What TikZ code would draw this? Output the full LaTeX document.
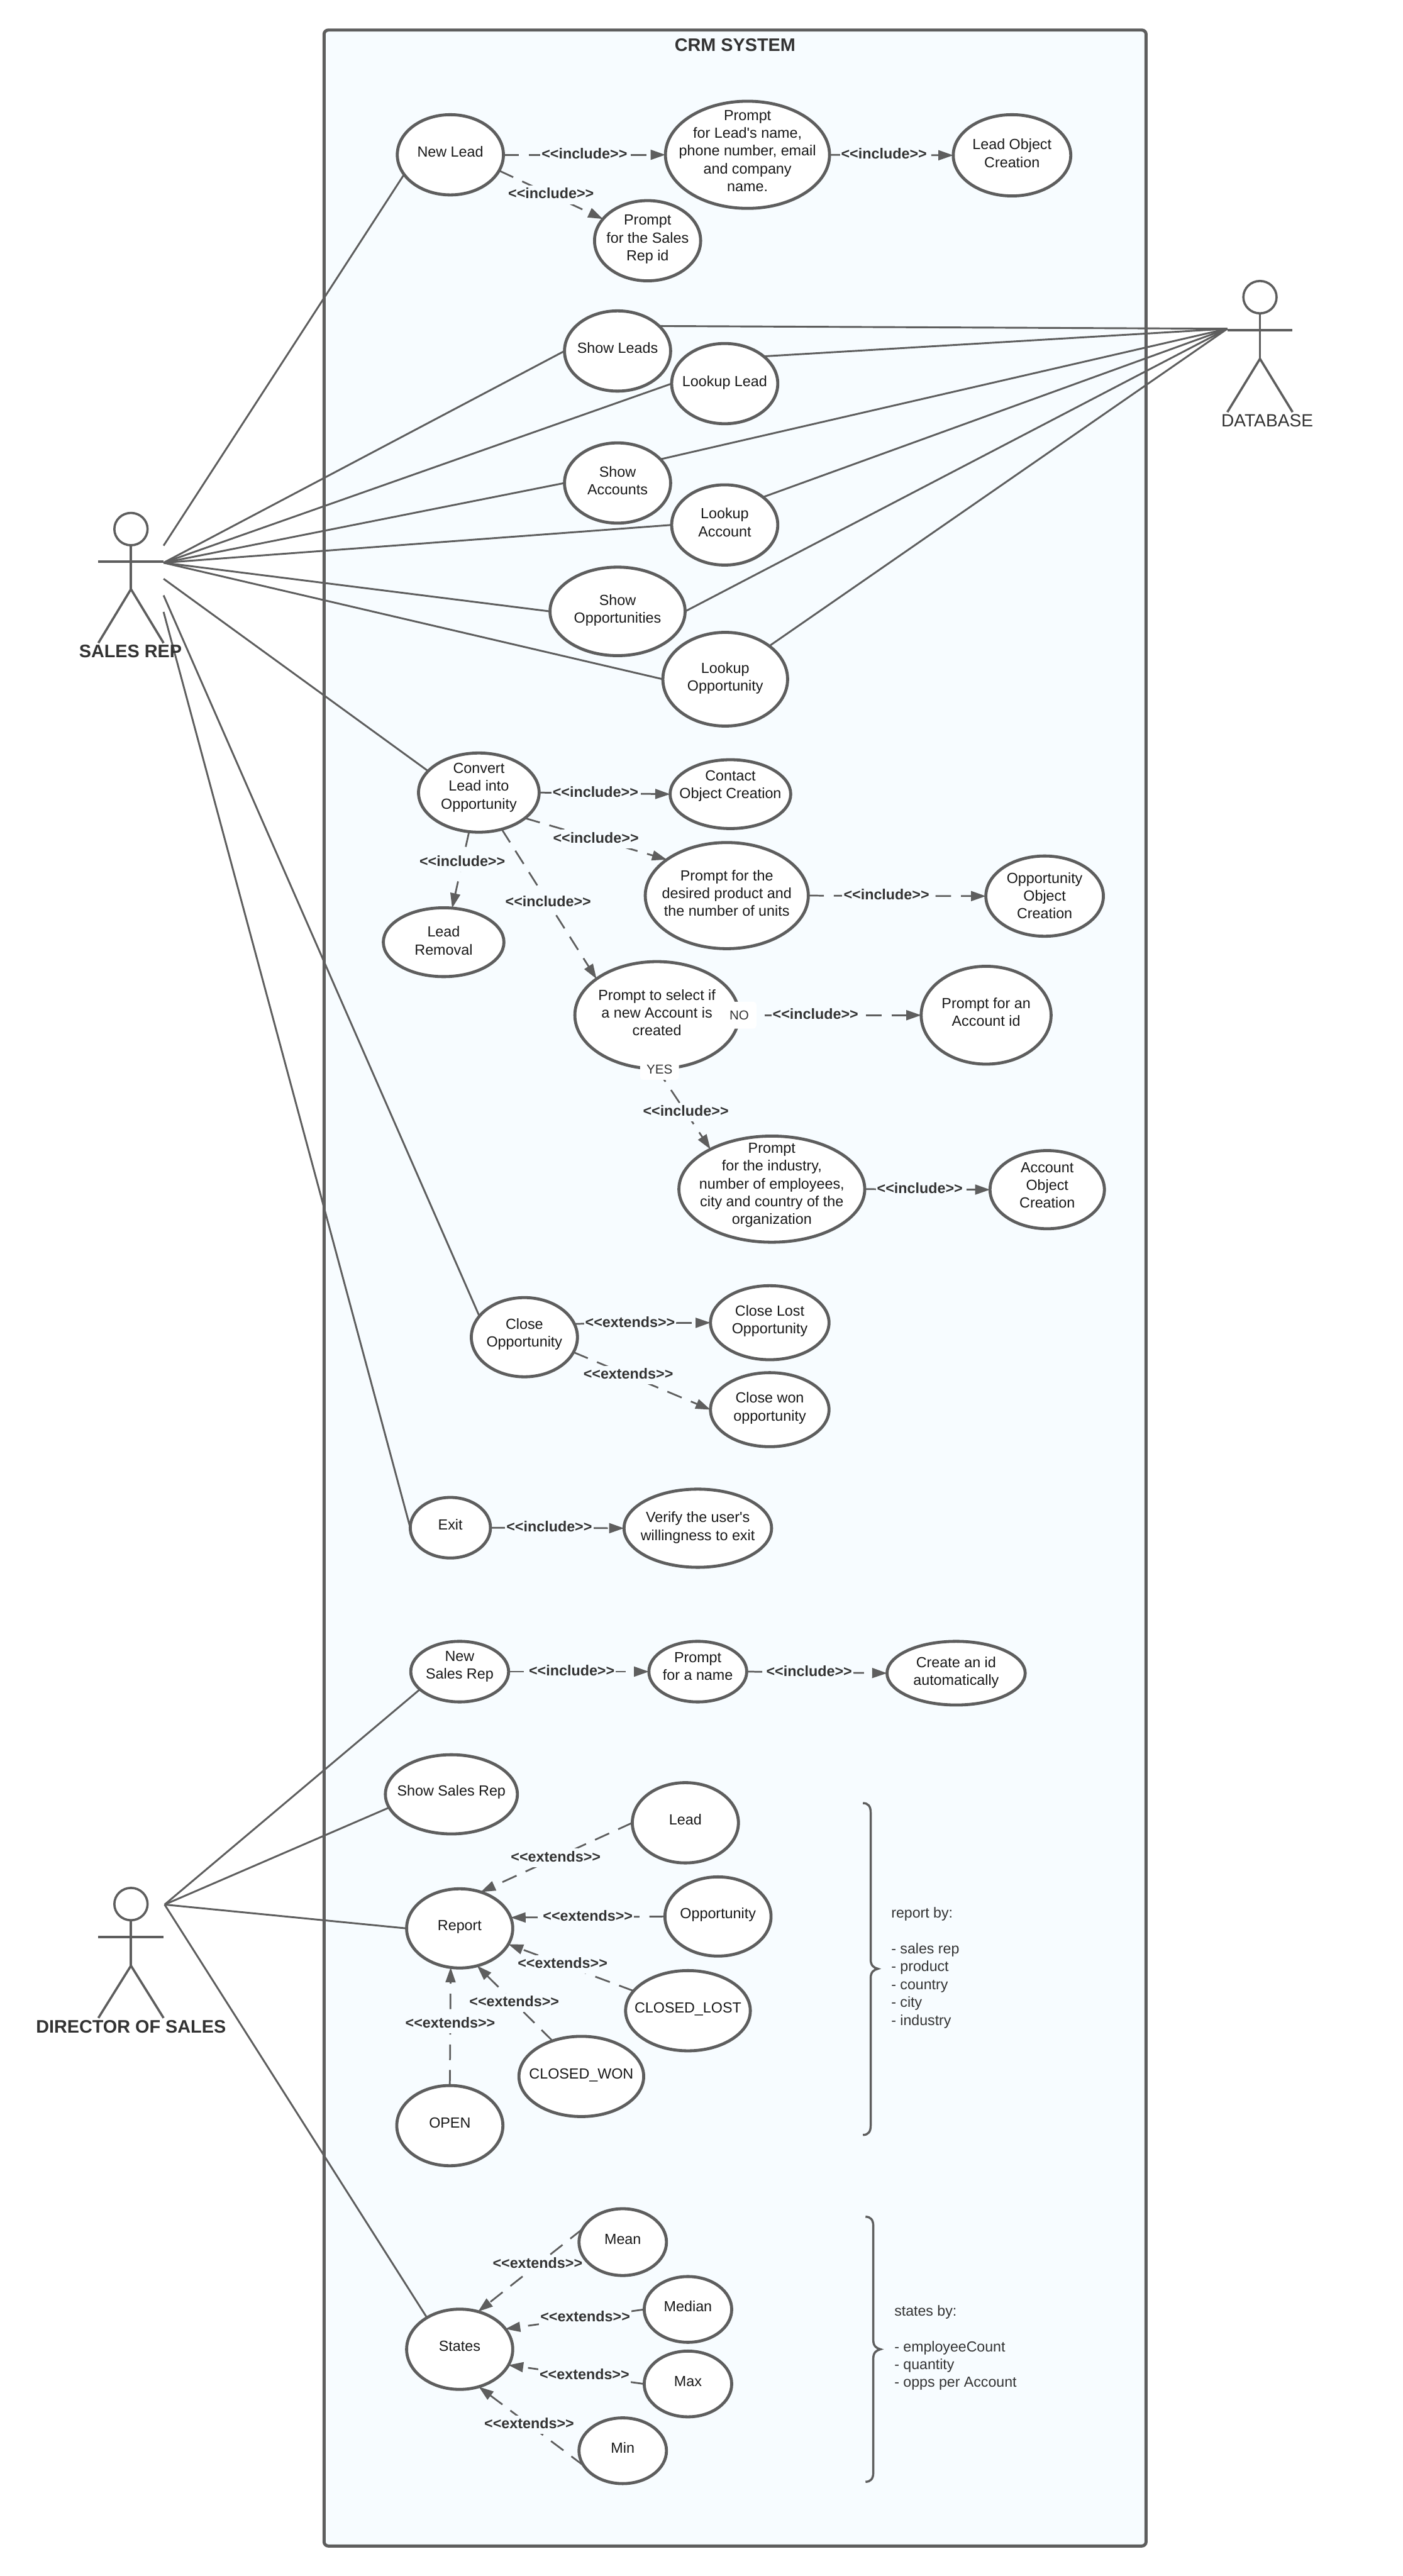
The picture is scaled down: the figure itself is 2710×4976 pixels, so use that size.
\documentclass[tikz,border=0pt]{standalone}
\usepackage{fontspec}
\usetikzlibrary{shapes.geometric,arrows.meta}
\newfontfamily\libfont{Liberation Sans}
\definecolor{ink}{HTML}{5E5E5E}
\definecolor{txt}{HTML}{333333}
\definecolor{paper}{HTML}{F7FCFF}
\pgfdeclarelayer{backlayer}
\pgfdeclarelayer{connlayer}
\pgfsetlayers{backlayer,connlayer,main}
\newdimen\upx
\upx=0.24pt
\tikzset{
  ucase/.style={ellipse,draw=ink,fill=white,line width=1.4pt,inner sep=0pt,outer sep=0pt,text=black!90,font=\libfont\fontsize{6.8}{8.26}\selectfont},
  assoc/.style={draw=ink,line width=0.85pt},
  dep/.style={draw=ink,line width=0.8pt,dash pattern=on 7.2pt off 4.6pt,-{Triangle[length=6.9pt,width=4.6pt,fill=ink]}},
  lbl/.style={fill=paper,text=txt,inner xsep=0.6pt,inner ysep=0.5pt,text height=5.6pt,text depth=2pt,font=\libfont\bfseries\fontsize{6.8}{8.26}\selectfont},
  actorline/.style={draw=ink,line width=1.05pt},
  actorhead/.style={ellipse,draw=ink,fill=white,line width=1.05pt,inner sep=0pt,outer sep=0pt,minimum width=15.4pt,minimum height=15pt},
  actorlabel/.style={text=txt,inner sep=0pt,font=\libfont\bfseries\fontsize{8.4}{10}\selectfont},
  sidetext/.style={text=txt,inner sep=0pt,align=left,anchor=west,font=\libfont\fontsize{6.75}{8.3}\selectfont},
  tag/.style={fill=white,rounded corners=1.5pt,text=txt,inner sep=0pt,font=\libfont\fontsize{6}{7}\selectfont},
  bracket/.style={draw=ink,line width=1pt},
}
% [text lift in px]{name}{cx}{cy}{rx}{ry}{text}
\newcommand\ucnode[7][5]{%
  \node[ucase,minimum width=(#5-1.5)*0.48pt,minimum height=(#6-1.5)*0.48pt] (#2) at (#3,#4)
    {\raisebox{\dimexpr #1\upx-2.3pt\relax}[0pt][0pt]{\makebox[0pt]{\begin{tabular}{@{}c@{}}#7\end{tabular}}}};}
% {name}{cx}{head cy}{arm y}{crotch y}{feet y}
\newcommand\actorfig[6]{%
  \node[actorhead] (#1head) at (#2,#3) {};
  \coordinate (#1crotch) at (#2,#5);
  \coordinate (#1armL) at (#2-63,#4);
  \coordinate (#1armR) at (#2+63,#4);
  \coordinate (#1footL) at (#2-63,#6);
  \coordinate (#1footR) at (#2+63,#6);
  \draw[actorline] (#1head.south) -- (#1crotch);
  \draw[actorline] (#1armL) -- (#1armR);
  \draw[actorline] (#1footL) -- (#1crotch) -- (#1footR);}
% {x spine}{y top}{y tip}{y bottom}
\newcommand\bracketshape[4]{%
  \draw[bracket] (#1-15,#2) .. controls (#1-5,#2) and (#1,#2+6) .. (#1,#2+18)
    -- (#1,#3-18) .. controls (#1,#3-6) and (#1+6,#3-2) .. (#1+14,#3)
    .. controls (#1+6,#3+2) and (#1,#3+6) .. (#1,#3+18)
    -- (#1,#4-18) .. controls (#1,#4-6) and (#1-5,#4) .. (#1-15,#4);}
\newcommand\incl{<<include>>}
\newcommand\extd{<<extends>>}
\begin{document}
\begin{tikzpicture}[x=0.24pt,y=-0.24pt]
\useasboundingbox (0,0) rectangle (2710,4976);
\begin{pgfonlayer}{backlayer}
  \fill[white] (0,0) rectangle (2710,4976);
  \draw[draw=ink,fill=paper,line width=1.45pt,rounded corners=2pt] (626,58) rectangle (2214,4918);
\end{pgfonlayer}
\node[text=txt,inner sep=0pt,font=\libfont\bfseries\fontsize{8.4}{10}\selectfont] (crmtitle) at (1420,87) {CRM SYSTEM};

% use cases
\ucnode{newlead}{870}{299}{104}{79}{New Lead}
\ucnode[7]{promptlead}{1444}{299}{160}{105}{Prompt\\for Lead's name,\\phone number, email\\and company\\name.}
\ucnode[3]{leadobj}{1955}{300}{115}{80}{Lead Object\\Creation}
\ucnode[5]{promptsales}{1251}{465}{104}{79}{Prompt\\for the Sales\\Rep id}
\ucnode{showleads}{1193}{678}{104}{79}{Show Leads}
\ucnode[4]{lookuplead}{1400}{741}{104}{79}{Lookup Lead}
\ucnode[4]{showaccounts}{1193}{933}{104}{79}{Show\\Accounts}
\ucnode[4]{lookupaccount}{1400}{1014}{104}{79}{Lookup\\Account}
\ucnode[4]{showopp}{1193}{1181}{132}{87}{Show\\Opportunities}
\ucnode[4]{lookupopp}{1401}{1312}{122}{92}{Lookup\\Opportunity}
\ucnode[12]{convert}{925}{1531}{118}{78}{Convert\\Lead into\\Opportunity}
\ucnode[18]{contactobj}{1411}{1534}{118}{68}{Contact\\Object Creation}
\ucnode[4]{promptdesired}{1404}{1730}{159}{104}{Prompt for the\\desired product and\\the number of units}
\ucnode[0]{oppobj}{2018}{1731}{115}{79}{Opportunity\\Object\\Creation}
\ucnode[2]{leadremoval}{857}{1820}{118}{68}{Lead\\Removal}
\ucnode[4]{select}{1269}{1961}{160}{105}{Prompt to select if\\a new Account is\\created}
\ucnode[5]{promptacct}{1905}{1961}{127}{96}{Prompt for an\\Account id}
\ucnode[10]{promptind}{1491}{2297}{181}{104}{Prompt\\for the industry,\\number of employees,\\city and country of the\\organization}
\ucnode[8]{acctobj}{2023}{2298}{112}{77}{Account\\Object\\Creation}
\ucnode[8]{closeopp}{1013}{2583}{104}{78}{Close\\Opportunity}
\ucnode[5]{closelost}{1487}{2555}{116}{73}{Close Lost\\Opportunity}
\ucnode[5]{closewon}{1487}{2723}{116}{73}{Close won\\opportunity}
\ucnode{exit}{870}{2951}{79}{60}{Exit}
\ucnode[3]{verify}{1348}{2952}{144}{77}{Verify the user's\\willingness to exit}
\ucnode[12]{newsr}{888}{3229}{96}{60}{New\\Sales Rep}
\ucnode[10]{promptname}{1348}{3229}{96}{60}{Prompt\\for a name}
\ucnode[3]{createid}{1847}{3232}{135}{63}{Create an id\\automatically}
\ucnode[6]{showsr}{872}{3466}{129}{78}{Show Sales Rep}
\ucnode{lead}{1324}{3521}{104}{79}{Lead}
\ucnode{opportunity}{1387}{3702}{104}{78}{Opportunity}
\ucnode{report}{888}{3725}{104}{78}{Report}
\ucnode{closedlost}{1329}{3884}{122}{79}{CLOSED\_LOST}
\ucnode{closedwon}{1123}{4011}{122}{79}{CLOSED\_WON}
\ucnode{open}{869}{4106}{104}{79}{OPEN}
\ucnode{states}{888}{4538}{104}{79}{States}
\ucnode{mean}{1203}{4331}{86}{66}{Mean}
\ucnode{median}{1329}{4461}{86}{65}{Median}
\ucnode{max}{1329}{4605}{86}{65}{Max}
\ucnode{min}{1203}{4734}{86}{65}{Min}

% actors
\actorfig{sr}{253}{1022}{1085}{1138}{1242}
\node[actorlabel] (srlabel) at (252,1258) {SALES REP};
\actorfig{db}{2434}{574}{638}{693}{796}
\node[actorlabel,font=\libfont\fontsize{8.2}{10}\selectfont] (dblabel) at (2448,812) {DATABASE};
\actorfig{ds}{253}{3678}{3742}{3797}{3898}
\node[actorlabel] (dslabel) at (253,3915) {DIRECTOR OF SALES};

\coordinate (srA) at (316,1054);
\coordinate (srB) at (316,1087);
\coordinate (srC) at (316,1118);
\coordinate (srD) at (316,1150);
\coordinate (srE) at (316,1182);
\coordinate (dbA) at (2371,635);
\coordinate (dsA) at (318,3679);

\begin{pgfonlayer}{connlayer}
  % sales rep
  \draw[assoc] (srA) -- (newlead.203.7);
  \draw[assoc] (srB) -- (showleads.west);
  \draw[assoc] (srB) -- (lookuplead.west);
  \draw[assoc] (srB) -- (showaccounts.west);
  \draw[assoc] (srB) -- (lookupaccount.west);
  \draw[assoc] (srB) -- (showopp.west);
  \draw[assoc] (srB) -- (lookupopp.west);
  \draw[assoc] (srC) -- (convert.157.4);
  \draw[assoc] (srD) -- (closeopp.155);
  \draw[assoc] (srE) -- (exit.west);
  % database
  \draw[assoc] (dbA) -- (showleads.31);
  \draw[assoc] (dbA) -- (lookuplead.35.5);
  \draw[assoc] (dbA) -- (showaccounts.29);
  \draw[assoc] (dbA) -- (lookupaccount.36);
  \draw[assoc] (dbA) -- (showopp.east);
  \draw[assoc] (dbA) -- (lookupopp.37);
  % director
  \draw[assoc] (dsA) -- (newsr.204);
  \draw[assoc] (dsA) -- (showsr.192.8);
  \draw[assoc] (dsA) -- (report.west);
  \draw[assoc] (dsA) -- (states.136);
  % dependencies
  \draw[dep] (newlead.east) -- node[lbl,pos=.5] {\incl} (promptlead.west);
  \draw[dep] (newlead.-18.8) -- node[lbl,pos=.5] {\incl} (promptsales.154);
  \draw[dep] (promptlead.east) -- node[lbl,pos=.44] {\incl} (leadobj.west);
  \draw[dep] (convert.east) -- node[lbl,pos=.43] {\incl} (contactobj.west);
  \draw[dep] (convert.-29.3) -- node[lbl,pos=.5] {\incl} (promptdesired.149.5);
  \draw[dep] (convert.256) -- node[lbl,pos=.4] {\incl} (leadremoval.76.5);
  \draw[dep] (convert.-58.7) -- node[lbl,pos=.49] {\incl} (select.149.5);
  \draw[dep] (promptdesired.east) -- node[lbl,pos=.44] {\incl} (oppobj.west);
  \draw[dep] (select.east) -- node[lbl,pos=.42] {\incl} (promptacct.west);
  \draw[dep] (select.south) -- node[lbl,pos=.54] {\incl} (promptind.147);
  \draw[dep] (promptind.east) -- node[lbl,pos=.44] {\incl} (acctobj.west);
  \draw[dep] (closeopp.15) -- node[lbl,pos=.41] {\extd} (closelost.west);
  \draw[dep] (closeopp.-17.5) -- node[lbl,pos=.4] {\extd} (closewon.west);
  \draw[dep] (exit.east) -- node[lbl,pos=.44] {\incl} (verify.west);
  \draw[dep] (newsr.east) -- node[lbl,pos=.45] {\incl} (promptname.west);
  \draw[dep] (promptname.east) -- node[lbl,pos=.445] {\incl} (createid.west);
  \draw[dep] (lead.west) -- node[lbl,pos=.505] {\extd} (report.60.8);
  \draw[dep] (opportunity.west) -- node[lbl,pos=.5] {\extd} (report.12);
  \draw[dep] (closedlost.160.5) -- node[lbl,pos=.567] {\extd} (report.-18.6);
  \draw[dep] (closedwon.129.7) -- node[lbl,pos=.507] {\extd} (report.-65);
  \draw[dep] (open.north) -- node[lbl,pos=.52] {\extd} (report.257);
  \draw[dep] (mean.162.6) -- node[lbl,pos=.43] {\extd} (states.64);
  \draw[dep] (median.west) -- node[lbl,pos=.425] {\extd} (states.24.8);
  \draw[dep] (max.west) -- node[lbl,pos=.44] {\extd} (states.-18);
  \draw[dep] (min.201.4) -- node[lbl,pos=.52] {\extd} (states.-63.4);
\end{pgfonlayer}

% decision tags over the select outline
\node[tag,minimum width=16pt,minimum height=12.5pt] (notag) at (1428,1961) {NO};
\node[tag,minimum width=18pt,minimum height=9.5pt] (yestag) at (1274,2066) {YES};

% brackets and their text
\bracketshape{1682}{3483}{3803}{4124}
\node[sidetext] (reportby) at (1721,3801) {report by:\\[8.3pt]- sales rep\\- product\\- country\\- city\\- industry};
\bracketshape{1687}{4282}{4538}{4794}
\node[sidetext] (statesby) at (1727,4535) {states by:\\[8.3pt]- employeeCount\\- quantity\\- opps per Account};
\end{tikzpicture}
\end{document}
